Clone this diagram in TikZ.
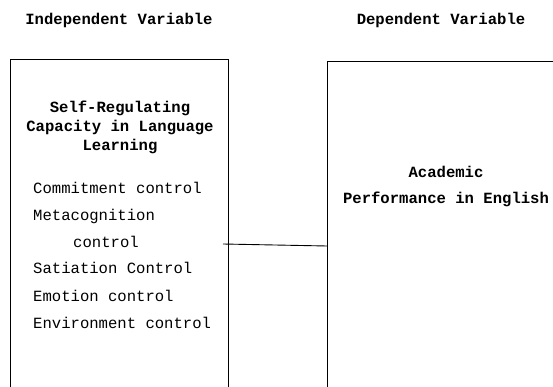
\documentclass[tikz,border=0pt]{standalone}
\usepackage{fontspec}
\setmonofont{Liberation Mono}
\usepackage{tikz}

\tikzset{
    vartitle/.style={font=\ttfamily\bfseries\fontsize{15.6}{19}\selectfont, inner sep=0pt},
    varbox/.style={draw, line width=0.9pt, anchor=north west, inner sep=0pt},
    varname/.style={font=\ttfamily\bfseries\fontsize{15.6}{19}\selectfont, align=center, inner sep=0pt},
    subscale/.style={font=\ttfamily\fontsize{15.6}{19}\selectfont, anchor=west, inner sep=0pt},
}

\begin{document}
\begin{tikzpicture}[x=1pt, y=-1pt]
                \useasboundingbox (0, 0) rectangle (553, 387);
                \clip (0, 0) rectangle (553, 387);
                % Titles
                \node [vartitle] (ivtitle) at (119, 20) {Independent Variable};
                \node [vartitle] (dvtitle) at (441, 20) {Dependent Variable};
                % Independent variable
                \node [varbox, minimum width=218pt, minimum height=360pt] (ivbox) at (10, 59) {};
                \node [varname] (ivname) at (120, 127) {Self-Regulating\\Capacity in Language\\Learning};
                \node [subscale] (commit) at (33, 188) {Commitment control};
                \node [subscale] (metacog) at (33, 216) {Metacognition};
                \node [subscale] (metactl) at (73, 242) {control};
                \node [subscale] (satiation) at (33, 268) {Satiation Control};
                \node [subscale] (emotion) at (33, 296) {Emotion control};
                \node [subscale] (environ) at (33, 323) {Environment control};
                % Dependent variable
                \node [varbox, minimum width=250pt, minimum height=360pt] (dvbox) at (327, 61) {};
                \node [varname] (dvname1) at (446, 172) {Academic};
                \node [varname] (dvname2) at (446, 199) {Performance in English};
                % Link
                \coordinate (ivlink) at (223, 244);
                \coordinate (dvlink) at (dvbox.west |- 0, 246);
                \draw [line width=0.9pt] (ivlink) -- (dvlink);
            \end{tikzpicture}
\end{document}
